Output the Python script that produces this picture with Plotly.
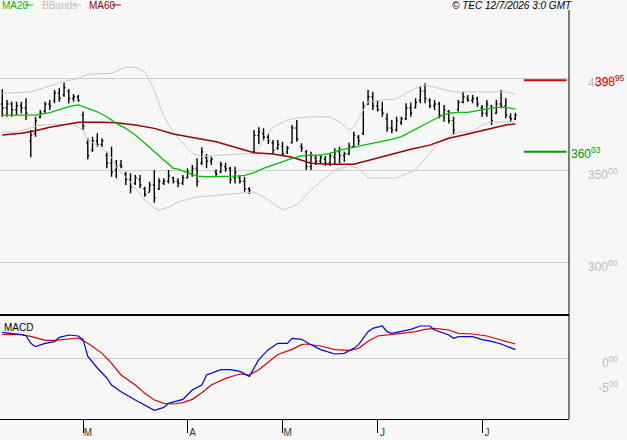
import plotly.graph_objects as go

# ---------------- data ----------------
bar_open = [386, 384, 386, 383, 385, 384, 366, 370, 379, 382, 386, 388, 392, 391, 393, 389, 390,
            380, 365, 361, 366, 364, 358, 354, 350, 353, 348, 345, 343, 345, 340, 338, 342, 340,
            343, 344, 346, 344, 343, 346, 348, 351, 354, 357, 355, 349, 349, 352, 351, 346, 346,
            344, 340, 360, 369, 370, 368, 365, 362, 363, 360, 365, 373, 363, 360, 352, 357, 355,
            356, 354, 357, 360, 358, 359, 363, 368, 370, 386, 390, 385, 383, 378, 373, 372, 376,
            378, 384, 384, 388, 393, 388, 385, 386, 380, 382, 377, 383, 387, 389, 388, 389, 384,
            381, 385, 381, 386, 385, 379, 378]
bar_high = [394.0, 388.2, 387.3, 387.3, 387.3, 389.1, 371.9, 379.1, 382.8, 387.3, 388.2, 393.6,
            394.6, 397.6, 394.0, 391.5, 390.9, 381.9, 367.4, 368.3, 370.1, 367.4, 360.1, 362.8,
            355.6, 355.6, 349.2, 348.4, 347.4, 347.4, 341.1, 343.8, 350.2, 345.7, 345.7, 350.2,
            346.5, 345.7, 347.4, 351.1, 352.9, 356.5, 362.5, 358.9, 357.4, 350.5, 354.7, 354.1,
            352.0, 352.0, 346.9, 346.5, 340.8, 371.9, 373.4, 372.8, 369.7, 366.5, 366.5, 365.5,
            363.2, 374.6, 377.3, 364.7, 361.0, 360.1, 358.3, 358.3, 357.8, 359.6, 362.0, 362.8,
            360.1, 365.0, 371.0, 369.2, 387.3, 393.6, 392.7, 388.2, 387.3, 381.0, 377.3, 379.1,
            379.1, 386.4, 386.8, 389.1, 395.5, 397.3, 389.1, 388.2, 387.3, 385.5, 382.8, 379.1,
            388.2, 392.7, 390.9, 390.9, 390.0, 385.5, 388.2, 385.5, 388.2, 393.6, 389.1, 381.0,
            381.3]
bar_low = [379.1, 379.1, 379.1, 380.0, 381.0, 377.3, 357.1, 368.3, 378.3, 381.0, 382.8, 386.4,
           387.3, 390.0, 386.4, 387.3, 387.3, 371.9, 356.0, 360.1, 362.8, 362.8, 351.1, 346.5,
           345.7, 351.1, 342.0, 337.5, 342.0, 340.2, 335.7, 338.4, 332.4, 339.3, 342.0, 342.9,
           342.9, 340.8, 342.0, 345.7, 346.5, 341.1, 352.9, 351.1, 352.9, 346.5, 348.4, 349.2,
           342.9, 342.9, 342.9, 338.4, 337.1, 359.2, 364.3, 366.1, 364.3, 359.2, 361.0, 357.8,
           358.9, 364.7, 365.5, 360.1, 350.2, 350.2, 352.9, 353.8, 352.3, 352.3, 352.9, 353.8,
           354.7, 358.3, 362.8, 363.7, 369.2, 385.5, 382.8, 381.9, 379.1, 371.0, 370.1, 371.0,
           374.6, 377.3, 379.1, 383.7, 386.4, 386.4, 383.7, 382.8, 378.3, 376.4, 375.5, 369.2,
           381.9, 386.4, 387.3, 386.4, 384.6, 379.1, 379.1, 374.6, 380.8, 383.7, 378.3, 376.4,
           377.3]
bar_close = [384, 386, 383, 385, 384, 381, 369, 377, 381, 386, 385, 392, 389, 395, 389, 390, 388,
             374, 358, 366, 364, 366, 354, 349, 352, 352, 345, 341, 346, 342, 337, 342, 335, 344,
             344, 347, 344, 343, 346, 349, 351, 344, 360, 355, 356, 348, 353, 351, 345, 349, 344,
             340, 339, 369, 371, 368, 366, 361, 364, 359, 362, 373, 367, 362, 352, 358, 355, 357,
             354, 358, 360, 358, 359, 363, 369, 366, 385, 390, 385, 383, 381, 373, 372, 377, 378,
             384, 381, 387, 393, 389, 385, 386, 380, 383, 377, 372, 387, 390, 388, 389, 386, 381,
             386, 377, 386, 385, 380, 378, 380]

ma20_x = [0, 3, 5, 7, 10, 12, 14, 16, 18, 20, 22, 24, 26, 28, 30, 32, 34, 36, 37, 39, 41, 43, 45,
          47, 49, 51, 53, 55, 57, 59, 61, 63, 65, 67, 69, 71, 73, 74, 76, 78, 80, 82, 84, 86, 88,
          90, 92, 94, 96, 98, 100, 102, 104, 106, 108]
ma20_y = [380.0, 380.0, 380.0, 380.0, 381.3, 382.8, 384.6, 385.5, 383.7, 381.8, 379.1, 375.5,
          372.8, 369.2, 364.7, 360.1, 355.6, 351.1, 350.7, 348.7, 346.9, 346.5, 346.5, 346.9,
          346.9, 347.3, 348.7, 351.1, 352.9, 354.7, 356.5, 357.8, 358.3, 358.3, 359.2, 361.0,
          361.9, 362.5, 363.7, 364.7, 366.1, 366.8, 368.3, 371.0, 373.7, 376.4, 379.1, 381.0,
          381.5, 381.5, 382.4, 383.2, 384.2, 384.2, 383.2]

ma60_x = [0, 4, 7, 10, 14, 16, 21, 24, 28, 32, 36, 41, 45, 49, 53, 57, 61, 65, 69, 74, 78, 82,
          86, 90, 94, 98, 102, 106, 108]
ma60_y = [369.2, 370.1, 371.5, 373.4, 375.2, 376.1, 376.1, 375.9, 374.6, 372.8, 369.7, 367.4,
          365.5, 362.5, 359.6, 358.9, 357.1, 353.8, 353.3, 353.3, 356.0, 358.9, 361.4, 363.7,
          367.4, 369.7, 372.3, 374.6, 375.2]

bb_up_x = [0, 6, 10, 13, 16, 18, 23, 26, 28, 30, 32, 34, 36, 38, 40, 42, 46, 50, 53, 55, 57, 60,
           62, 65, 69, 71, 73, 74, 76, 77, 80, 83, 85, 87, 89, 92, 95, 99, 103, 106, 108]
bb_up_y = [391.8, 392.6, 395.8, 398.2, 400.0, 402.2, 402.7, 406.0, 406.0, 403.6, 393.6, 379.1,
           371.0, 364.7, 359.2, 357.4, 358.3, 358.9, 359.2, 366.4, 373.5, 377.3, 378.4, 379.1,
           379.0, 376.4, 371.9, 373.5, 382.8, 387.3, 388.2, 388.8, 391.8, 394.6, 396.4, 394.6,
           392.6, 392.6, 392.6, 392.6, 391.5]

bb_lo_x = [0, 3, 8, 15, 17, 18, 21, 23, 24, 26, 28, 30, 32, 33, 35, 37, 41, 46, 50, 53, 56, 59,
           62, 65, 68, 70, 73, 75, 77, 83, 87, 90, 92, 94, 96, 99, 101, 103, 108]
bb_lo_y = [370.8, 370.8, 374.6, 375.2, 371.9, 366.5, 362.1, 357.2, 351.8, 346.4, 340.4, 333.9,
           329.5, 328.4, 330.0, 332.8, 335.5, 336.6, 337.7, 338.2, 333.9, 328.4, 331.1, 339.3,
           345.8, 350.2, 352.3, 351.2, 345.8, 345.8, 350.2, 359.4, 365.4, 368.1, 370.8, 370.8,
           374.6, 376.3, 376.3]

macd_x = [0, 2, 4, 5, 6, 7, 9, 11, 12, 14, 16, 17, 18, 20, 22, 23, 25, 28, 30, 32, 34, 35, 38,
          40, 42, 43, 46, 48, 50, 52, 54, 56, 58, 60, 61, 63, 65, 67, 70, 72, 74, 75, 77, 78, 80,
          81, 82, 84, 86, 88, 90, 91, 94, 95, 96, 99, 101, 103, 105, 108]
macd_y = [5.13, 4.93, 4.66, 4.46, 2.93, 2.27, 2.93, 3.27, 4.13, 4.60, 4.40, 3.66, 0.33, -2.0,
          -4.0, -5.4, -6.73, -8.4, -9.4, -10.47, -9.87, -9.07, -8.27, -6.4, -5.4, -3.4, -2.33,
          -2.33, -2.67, -3.67, -0.33, 1.67, 2.93, 2.93, 3.93, 3.73, 2.67, 1.67, 0.8, 0.93, 1.93,
          2.67, 5.27, 5.93, 6.4, 5.27, 4.93, 5.27, 5.73, 6.4, 6.4, 5.6, 4.6, 3.93, 4.27, 4.27,
          3.67, 3.33, 2.8, 1.67]

signal_x = [0, 4, 6, 9, 11, 14, 16, 18, 21, 23, 25, 28, 30, 32, 34, 36, 38, 40, 42, 44, 47, 50,
            52, 54, 56, 58, 61, 63, 64, 67, 70, 73, 75, 77, 79, 82, 84, 87, 89, 91, 94, 96, 99,
            102, 105, 108]
signal_y = [4.73, 4.67, 4.33, 3.53, 3.53, 3.8, 4.0, 2.93, 0.93, -1.07, -3.4, -5.4, -7.07, -8.4,
            -9.07, -9.2, -8.93, -8.27, -6.93, -5.4, -4.07, -3.2, -3.4, -2.33, -0.73, 0.7, 1.73,
            2.67, 2.8, 2.4, 1.67, 1.53, 1.93, 3.33, 4.4, 4.8, 4.93, 5.27, 5.73, 5.93, 5.6, 4.93,
            4.8, 4.4, 3.67, 2.8]

resistance = 398.95
support = 360.03

price_ticks = [300, 350, 400]
macd_ticks = [0, -5]
month_pos = [17, 39, 59, 79, 101]
month_labels = ["M", "A", "M", "J", "J"]

# ---------------- figure ----------------
FONT = "Liberation Sans, Arial, sans-serif"
BG = "#f7f7f7"
GRID = "#cccccc"
W, H = 627, 440
ML, MR, MT, MB = 0, 58, 10, 21
PW = W - ML - MR
PH = H - MT - MB
split = (419 - 315) / PH


def px_x(p):
    return (p - ML) / PW


def px_y(p):
    return (H - MB - p) / PH


fig = go.Figure()

fig.add_trace(go.Scatter(x=bb_up_x, y=bb_up_y, mode="lines", line=dict(color="#c8c8c8", width=1),
                         hoverinfo="skip", xaxis="x", yaxis="y"))
fig.add_trace(go.Scatter(x=bb_lo_x, y=bb_lo_y, mode="lines", line=dict(color="#c8c8c8", width=1),
                         hoverinfo="skip", xaxis="x", yaxis="y"))
fig.add_trace(go.Scatter(x=ma60_x, y=ma60_y, mode="lines", line=dict(color="#990000", width=1.5),
                         hoverinfo="skip", xaxis="x", yaxis="y"))
fig.add_trace(go.Scatter(x=ma20_x, y=ma20_y, mode="lines", line=dict(color="#00c000", width=1.3),
                         hoverinfo="skip", xaxis="x", yaxis="y"))

bar_x = list(range(len(bar_close)))
fig.add_trace(go.Ohlc(x=bar_x, open=bar_open, high=bar_high, low=bar_low, close=bar_close,
                      increasing=dict(line=dict(color="black", width=1.4)),
                      decreasing=dict(line=dict(color="black", width=1.4)),
                      tickwidth=0.3, hoverinfo="skip", xaxis="x", yaxis="y"))

fig.add_trace(go.Scatter(x=signal_x, y=signal_y, mode="lines", line=dict(color="#dd0000", width=1.2),
                         hoverinfo="skip", xaxis="x2", yaxis="y2"))
fig.add_trace(go.Scatter(x=macd_x, y=macd_y, mode="lines", line=dict(color="#0000dd", width=1.2),
                         hoverinfo="skip", xaxis="x2", yaxis="y2"))

n = len(bar_close)
xr = [-0.48, 119.3]

# support / resistance marks
for lvl, col in [(resistance, "#dd0000"), (support, "#009900")]:
    fig.add_shape(type="line", xref="x", yref="y", x0=n + 0.8, x1=n + 9.8, y0=lvl, y1=lvl,
                  line=dict(color=col, width=2))

shapes_extra = [
    dict(type="line", xref="paper", yref="paper", x0=0, x1=1, y0=split, y1=split,
         line=dict(color="black", width=2)),
    dict(type="line", xref="paper", yref="paper", x0=1, x1=1, y0=0, y1=1,
         line=dict(color="black", width=1)),
]
for s in shapes_extra:
    fig.add_shape(**s)

ann = []
for v in price_ticks:
    ann.append(dict(text=f"{v}<sup>00</sup>", xref="paper", yref="y", x=px_x(620), y=v,
                    xanchor="right", yanchor="middle", yshift=-4, showarrow=False,
                    font=dict(family=FONT, size=12, color="#bbbbbb")))
for v in macd_ticks:
    ann.append(dict(text=f"{v}<sup>00</sup>", xref="paper", yref="y2", x=px_x(620), y=v,
                    xanchor="right", yanchor="middle", yshift=-4, showarrow=False,
                    font=dict(family=FONT, size=12, color="#bbbbbb")))

ann.append(dict(text=f"{int(resistance)}<sup>{round((resistance % 1) * 100):02d}</sup>",
                xref="paper", yref="y", x=px_x(593), y=resistance, xanchor="left",
                yanchor="middle", yshift=-1, showarrow=False,
                font=dict(family=FONT, size=12, color="#dd0000")))
ann.append(dict(text=f"{int(support)}<sup>{round((support % 1) * 100):02d}</sup>",
                xref="paper", yref="y", x=px_x(569), y=support, xanchor="left",
                yanchor="middle", yshift=-1, showarrow=False,
                font=dict(family=FONT, size=12, color="#009900")))

# legend texts
legend_items = [("MA20", "#00bb00", 0, 25, 33), ("BBands", "#c0c0c0", 40, 73, 81),
                ("MA60", "#990000", 87, 112, 121)]
for name, col, x0, l0, l1 in legend_items:
    ann.append(dict(text=name, xref="paper", yref="paper", x=px_x(x0), y=px_y(5),
                    xanchor="left", yanchor="middle", showarrow=False,
                    font=dict(family=FONT, size=10, color=col)))
    fig.add_shape(type="line", xref="paper", yref="paper", x0=px_x(l0), x1=px_x(l1),
                  y0=px_y(5), y1=px_y(5), line=dict(color=col, width=1))

ann.append(dict(text="<i>© TEC 12/7/2026 3:0 GMT</i>", xref="paper", yref="paper",
                x=px_x(574), y=px_y(5), xanchor="right", yanchor="middle", showarrow=False,
                font=dict(family=FONT, size=10, color="#000000")))
ann.append(dict(text="MACD", xref="paper", yref="paper", x=px_x(2), y=px_y(327),
                xanchor="left", yanchor="middle", showarrow=False,
                font=dict(family=FONT, size=10, color="#000000")))

fig.update_layout(
    width=W, height=H, margin=dict(l=ML, r=MR, t=MT, b=MB),
    paper_bgcolor=BG, plot_bgcolor=BG, showlegend=False,
    annotations=ann,
    xaxis=dict(domain=[0, 1], anchor="y", range=xr, showticklabels=False, showgrid=False,
               zeroline=False, rangeslider=dict(visible=False), ticks=""),
    xaxis2=dict(domain=[0, 1], anchor="y2", range=xr, matches="x", showgrid=False,
                zeroline=False, tickmode="array", tickvals=month_pos, ticktext=month_labels,
                ticks="outside", ticklen=13, tickwidth=1, tickcolor="black",
                showline=True, linecolor="black", linewidth=1,
                ticklabelshift=5, ticklabelstandoff=-9,
                tickfont=dict(family=FONT, size=10, color="#333333"),
                rangeslider=dict(visible=False)),
    yaxis=dict(domain=[split, 1], anchor="x", range=[271.4, 437.1], tickmode="array",
               tickvals=price_ticks, showticklabels=False, showgrid=True, gridcolor=GRID,
               gridwidth=1, zeroline=False, ticks=""),
    yaxis2=dict(domain=[0, split], anchor="x2", range=[-12.2, 8.6], tickmode="array",
                tickvals=[0], showticklabels=False, showgrid=True, gridcolor=GRID,
                zeroline=False, ticks=""),
)

fig.write_html("out.html")
